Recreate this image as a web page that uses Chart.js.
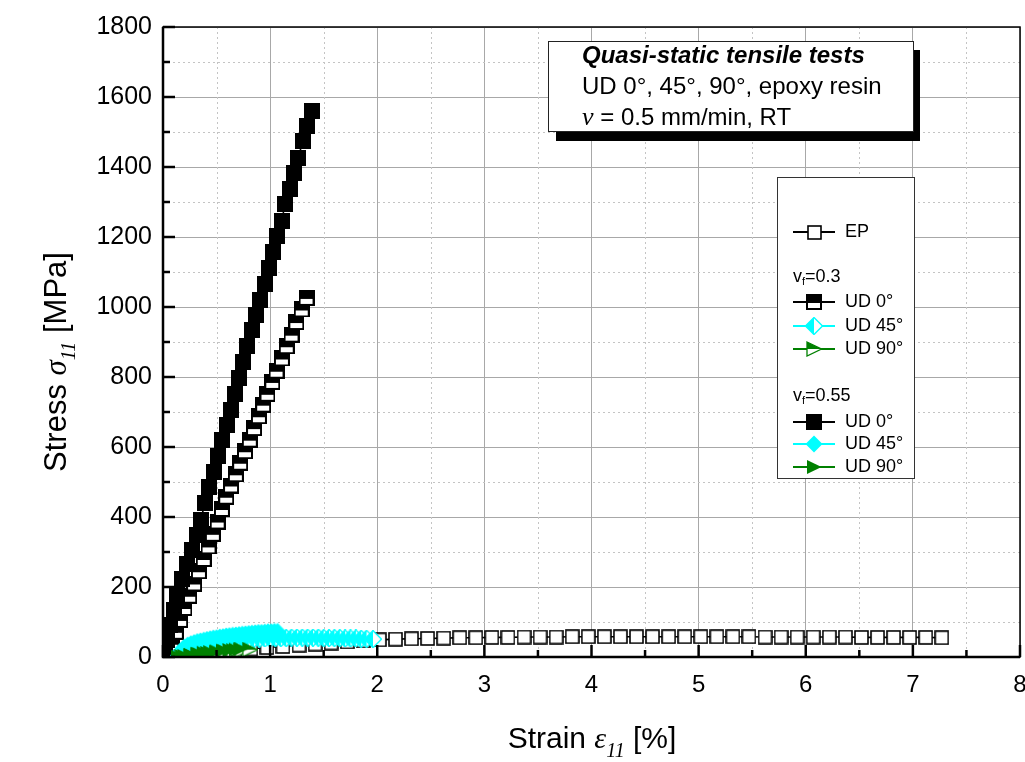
<!DOCTYPE html>
<html>
<head>
<meta charset="utf-8">
<script src="https://cdn.jsdelivr.net/npm/chart.js@4.4.1/dist/chart.umd.min.js"></script>
<style>
  html, body { margin: 0; padding: 0; background: #fff; }
  #wrap { width: 1025px; height: 762px; }
</style>
</head>
<body>
<div id="wrap"><canvas id="chart" width="1025" height="762"></canvas></div>
<script>
// strain in %, stress in MPa
const epStrain = [0.07, 0.22, 0.37, 0.52, 0.67, 0.82, 0.97, 1.12, 1.27, 1.42, 1.57, 1.72, 1.87, 2.02, 2.17, 2.32, 2.47, 2.62, 2.77, 2.92, 3.07, 3.22, 3.37, 3.52, 3.67, 3.82, 3.97, 4.12, 4.27, 4.42, 4.57, 4.72, 4.87, 5.02, 5.17, 5.32, 5.47, 5.62, 5.77, 5.92, 6.07, 6.22, 6.37, 6.52, 6.67, 6.82, 6.97, 7.12, 7.27];
const epStress = [2, 7, 11, 15, 19, 23, 27, 30, 34, 37, 40, 43, 46, 49, 51, 52, 53, 54, 55, 55, 56, 56, 57, 57, 57, 58, 58, 58, 58, 58, 58, 58, 58, 58, 58, 58, 58, 57, 57, 57, 57, 57, 57, 56, 56, 56, 56, 56, 55];

const ud0v30Strain = [0.04, 0.08, 0.12, 0.16, 0.20, 0.245, 0.29, 0.335, 0.38, 0.425, 0.465, 0.51, 0.55, 0.59, 0.635, 0.68, 0.72, 0.765, 0.81, 0.85, 0.895, 0.935, 0.975, 1.02, 1.06, 1.11, 1.155, 1.20, 1.245, 1.295, 1.34];
const ud0v30Stress = [5, 38, 72, 106, 140, 175, 210, 245, 280, 316, 352, 387, 423, 458, 490, 522, 555, 588, 621, 654, 688, 721, 752, 786, 818, 853, 888, 921, 957, 993, 1026];

const ud0v55Strain = [0.02, 0.04, 0.07, 0.10, 0.135, 0.18, 0.225, 0.268, 0.315, 0.352, 0.392, 0.433, 0.476, 0.517, 0.548, 0.594, 0.632, 0.672, 0.713, 0.750, 0.787, 0.828, 0.868, 0.906, 0.952, 0.993, 1.030, 1.061, 1.108, 1.139, 1.186, 1.223, 1.264, 1.304, 1.341, 1.388];
const ud0v55Stress = [12, 50, 92, 135, 178, 222, 265, 306, 349, 392, 440, 485, 528, 573, 619, 662, 707, 752, 797, 842, 888, 934, 977, 1021, 1067, 1112, 1158, 1203, 1246, 1293, 1336, 1382, 1427, 1474, 1517, 1560];

const ud45v30Strain = [0.15, 0.17, 0.20, 0.25, 0.30, 0.35, 0.40, 0.45, 0.50, 0.55, 0.60, 0.65, 0.70, 0.75, 0.80, 0.85, 0.90, 0.95, 1.00, 1.05, 1.10, 1.15, 1.20, 1.25, 1.30, 1.35, 1.40, 1.45, 1.50, 1.55, 1.60, 1.65, 1.70, 1.75, 1.80, 1.85, 1.90, 1.96];
const ud45v30Stress = [3, 15, 24, 30, 34, 37, 40, 42, 44, 45, 47, 48, 49, 50, 51, 52, 52, 53, 53, 54, 54, 54, 55, 55, 55, 55, 55, 55, 54, 54, 54, 54, 53, 53, 53, 52, 52, 51];

const ud45v55Strain = [0.17, 0.18, 0.20, 0.23, 0.26, 0.29, 0.32, 0.35, 0.38, 0.41, 0.44, 0.47, 0.50, 0.53, 0.56, 0.59, 0.62, 0.65, 0.68, 0.71, 0.74, 0.77, 0.80, 0.83, 0.86, 0.89, 0.92, 0.95, 0.98, 1.01, 1.04, 1.07];
const ud45v55Stress = [5, 18, 28, 34, 38, 41, 44, 46, 48, 50, 52, 54, 55, 57, 58, 60, 61, 62, 63, 64, 65, 66, 67, 68, 69, 70, 70, 71, 72, 72, 73, 73];

const ud90v30Strain = [0.18, 0.26, 0.34, 0.42, 0.50, 0.58, 0.66, 0.74, 0.81];
const ud90v30Stress = [0, 3, 6, 9, 12, 14, 17, 19, 21];

const ud90v55Strain = [0.14, 0.20, 0.26, 0.32, 0.38, 0.44, 0.50, 0.56, 0.62, 0.68, 0.72];
const ud90v55Stress = [0, 3, 6, 9, 12, 14, 16, 18, 20, 21, 22];

const xTicks = [0, 1, 2, 3, 4, 5, 6, 7, 8];
const yTicks = [0, 200, 400, 600, 800, 1000, 1200, 1400, 1600, 1800];

const CYAN = '#00ffff';
const GREEN = '#008000';
const SANS = '"Liberation Sans", Arial, sans-serif';
const SERIF = '"Liberation Serif", "Times New Roman", serif';

// marker bitmaps (Origin style symbols)
function marker(w, h, draw) {
  const c = document.createElement('canvas');
  c.width = w; c.height = h;
  draw(c.getContext('2d'), w, h);
  return c;
}
const mkOpenSq = marker(15, 15, g => {
  g.fillStyle = '#fff'; g.fillRect(1, 1, 13, 13);
  g.strokeStyle = '#000'; g.lineWidth = 1.6; g.strokeRect(1, 1, 13, 13);
});
const mkFullSq = marker(16, 16, g => {
  g.fillStyle = '#000'; g.fillRect(0, 0, 16, 16);
});
const mkHalfSq = marker(16, 16, g => {
  g.fillStyle = '#000'; g.fillRect(0, 0, 16, 16);
  g.fillStyle = '#fff'; g.fillRect(2, 9, 12, 5);
});
function diamondPath(g) {
  g.beginPath(); g.moveTo(9, 0.5); g.lineTo(17.5, 9); g.lineTo(9, 17.5); g.lineTo(0.5, 9); g.closePath();
}
const mkFullDia = marker(18, 18, g => {
  diamondPath(g); g.fillStyle = CYAN; g.fill();
});
const mkHalfDia = marker(18, 18, g => {
  diamondPath(g); g.fillStyle = '#fff'; g.fill();
  g.beginPath(); g.moveTo(9, 0.5); g.lineTo(9, 17.5); g.lineTo(0.5, 9); g.closePath();
  g.fillStyle = CYAN; g.fill();
  diamondPath(g); g.strokeStyle = CYAN; g.lineWidth = 1.4; g.stroke();
});
function triPath(g) {
  g.beginPath(); g.moveTo(1, 1); g.lineTo(15.5, 8); g.lineTo(1, 15); g.closePath();
}
const mkFullTri = marker(16, 16, g => {
  triPath(g); g.fillStyle = GREEN; g.fill();
});
const mkHalfTri = marker(16, 16, g => {
  triPath(g); g.fillStyle = '#fff'; g.fill();
  g.beginPath(); g.moveTo(1, 1); g.lineTo(15.5, 8); g.lineTo(1, 8); g.closePath();
  g.fillStyle = GREEN; g.fill();
  triPath(g); g.strokeStyle = GREEN; g.lineWidth = 1.3; g.stroke();
});

function pts(xs, ys) { return xs.map((x, i) => ({ x: x, y: ys[i] })); }
function series(label, xs, ys, color, img) {
  return {
    label: label, data: pts(xs, ys), showLine: true,
    borderColor: color, backgroundColor: color, borderWidth: 1.6,
    pointStyle: img, pointRadius: 7, pointHoverRadius: 7, tension: 0
  };
}

// index 0 is drawn on top
const datasets = [
  series('UD 90° vf=0.55', ud90v55Strain, ud90v55Stress, GREEN, mkFullTri),
  series('UD 90° vf=0.3', ud90v30Strain, ud90v30Stress, GREEN, mkHalfTri),
  series('UD 45° vf=0.55', ud45v55Strain, ud45v55Stress, CYAN, mkFullDia),
  series('UD 45° vf=0.3', ud45v30Strain, ud45v30Stress, CYAN, mkHalfDia),
  series('UD 0° vf=0.55', ud0v55Strain, ud0v55Stress, '#000', mkFullSq),
  series('UD 0° vf=0.3', ud0v30Strain, ud0v30Stress, '#000', mkHalfSq),
  series('EP', epStrain, epStress, '#000', mkOpenSq)
];

function rich(g, parts, x, y, align) {
  let total = 0;
  parts.forEach(p => { g.font = p.font; p.w = g.measureText(p.t).width; total += p.w; });
  let cx = align === 'center' ? x - total / 2 : x;
  g.textAlign = 'left';
  parts.forEach(p => {
    g.font = p.font;
    g.fillText(p.t, cx, y + (p.dy || 0));
    cx += p.w;
  });
}

const legendRows = [
  { y: 232, img: mkOpenSq, color: '#000', text: 'EP' },
  { y: 277, head: '0.3' },
  { y: 302, img: mkHalfSq, color: '#000', text: 'UD 0°' },
  { y: 326, img: mkHalfDia, color: CYAN, text: 'UD 45°' },
  { y: 349, img: mkHalfTri, color: GREEN, text: 'UD 90°' },
  { y: 396, head: '0.55' },
  { y: 422, img: mkFullSq, color: '#000', text: 'UD 0°' },
  { y: 444, img: mkFullDia, color: CYAN, text: 'UD 45°' },
  { y: 467, img: mkFullTri, color: GREEN, text: 'UD 90°' }
];

const deco = {
  id: 'deco',
  beforeDatasetsDraw(chart) {
    const g = chart.ctx, a = chart.chartArea, xs = chart.scales.x, ys = chart.scales.y;
    g.save();
    g.strokeStyle = '#c4c4c4'; g.lineWidth = 1; g.setLineDash([2, 3]);
    for (let v = 0.5; v < 8; v += 1) {
      const px = Math.round(xs.getPixelForValue(v)) + 0.5;
      g.beginPath(); g.moveTo(px, a.top); g.lineTo(px, a.bottom); g.stroke();
    }
    for (let v = 100; v < 1800; v += 200) {
      const py = Math.round(ys.getPixelForValue(v)) + 0.5;
      g.beginPath(); g.moveTo(a.left, py); g.lineTo(a.right, py); g.stroke();
    }
    g.restore();
  },
  afterDatasetsDraw(chart) {
    const g = chart.ctx, a = chart.chartArea, xs = chart.scales.x, ys = chart.scales.y;
    g.save();
    g.strokeStyle = '#000'; g.lineWidth = 2.5;
    for (let v = 0; v <= 8; v += 0.5) {
      const px = xs.getPixelForValue(v);
      const len = Number.isInteger(v) ? 12 : 7;
      g.beginPath(); g.moveTo(px, a.bottom); g.lineTo(px, a.bottom - len); g.stroke();
    }
    for (let v = 0; v <= 1800; v += 100) {
      const py = ys.getPixelForValue(v);
      const len = v % 200 === 0 ? 12 : 7;
      g.beginPath(); g.moveTo(a.left, py); g.lineTo(a.left + len, py); g.stroke();
    }
    g.lineWidth = 1.5;
    g.strokeRect(a.left, a.top, a.right - a.left, a.bottom - a.top);
    g.lineWidth = 2.5;
    g.beginPath(); g.moveTo(a.left, a.top); g.lineTo(a.left, a.bottom); g.lineTo(a.right, a.bottom); g.stroke();
    g.restore();
  },
  afterDraw(chart) {
    const g = chart.ctx;
    g.save();
    g.fillStyle = '#000';
    g.textBaseline = 'alphabetic';

    // axis titles
    rich(g, [
      { t: 'Strain ', font: '30px ' + SANS },
      { t: 'ε', font: 'italic 30px ' + SERIF },
      { t: '11', font: 'italic 20px ' + SERIF, dy: 9 },
      { t: ' [%]', font: '30px ' + SANS }
    ], 592, 748, 'center');

    g.save();
    g.translate(66, 362);
    g.rotate(-Math.PI / 2);
    rich(g, [
      { t: 'Stress ', font: '31px ' + SANS },
      { t: 'σ', font: 'italic 31px ' + SERIF },
      { t: '11', font: 'italic 20px ' + SERIF, dy: 9 },
      { t: ' [MPa]', font: '31px ' + SANS }
    ], 0, 0, 'center');
    g.restore();

    // note box with shadow
    g.fillStyle = '#000';
    g.fillRect(556, 50, 364, 91);
    g.fillStyle = '#fff';
    g.fillRect(548, 41, 366, 91);
    g.strokeStyle = '#222'; g.lineWidth = 1;
    g.strokeRect(548.5, 41.5, 365, 90);
    g.fillStyle = '#000';
    g.textBaseline = 'middle';
    rich(g, [{ t: 'Quasi-static tensile tests', font: 'italic bold 24px ' + SANS }], 582, 56, 'left');
    rich(g, [{ t: 'UD 0°, 45°, 90°, epoxy resin', font: '24px ' + SANS }], 582, 87, 'left');
    rich(g, [
      { t: 'ν', font: 'italic 26px ' + SERIF },
      { t: ' = 0.5 mm/min, RT', font: '24px ' + SANS }
    ], 582, 118, 'left');

    // legend
    g.fillStyle = '#fff';
    g.fillRect(777, 177, 138, 302);
    g.strokeStyle = '#333'; g.lineWidth = 1;
    g.strokeRect(777.5, 177.5, 137, 301);
    legendRows.forEach(r => {
      g.fillStyle = '#000';
      if (r.head) {
        rich(g, [
          { t: 'v', font: '18px ' + SANS },
          { t: 'f', font: '11px ' + SANS, dy: 5 },
          { t: '=' + r.head, font: '18px ' + SANS }
        ], 793, r.y, 'left');
        return;
      }
      g.strokeStyle = r.color; g.lineWidth = 2;
      g.beginPath(); g.moveTo(793, r.y); g.lineTo(835, r.y); g.stroke();
      g.drawImage(r.img, Math.round(814 - r.img.width / 2), Math.round(r.y - r.img.height / 2));
      g.fillStyle = '#000';
      rich(g, [{ t: r.text, font: '18px ' + SANS }], 845, r.y, 'left');
    });
    g.restore();
  }
};

new Chart(document.getElementById('chart'), {
  type: 'scatter',
  data: { datasets: datasets },
  options: {
    responsive: false,
    animation: false,
    layout: { autoPadding: false, padding: { top: 27, right: 5, left: 0, bottom: 0 } },
    plugins: { legend: { display: false }, tooltip: { enabled: false } },
    scales: {
      x: {
        type: 'linear', min: 0, max: 8,
        afterBuildTicks: s => { s.ticks = xTicks.map(v => ({ value: v })); },
        afterFit: s => { s.height = 105; s.paddingLeft = 0; s.paddingRight = 0; },
        ticks: { color: '#000', font: { family: SANS, size: 24 }, padding: 14, maxRotation: 0, autoSkip: false, callback: v => String(v) },
        grid: { color: '#a8a8a8', lineWidth: 1, drawTicks: false },
        border: { display: false }
      },
      y: {
        type: 'linear', min: 0, max: 1800,
        afterBuildTicks: s => { s.ticks = yTicks.map(v => ({ value: v })); },
        afterFit: s => { s.width = 163; s.paddingTop = 0; s.paddingBottom = 0; },
        ticks: { color: '#000', font: { family: SANS, size: 25 }, padding: 11, autoSkip: false, callback: v => String(v) },
        grid: { color: '#a8a8a8', lineWidth: 1, drawTicks: false },
        border: { display: false }
      }
    }
  },
  plugins: [deco]
});
</script>
</body>
</html>
